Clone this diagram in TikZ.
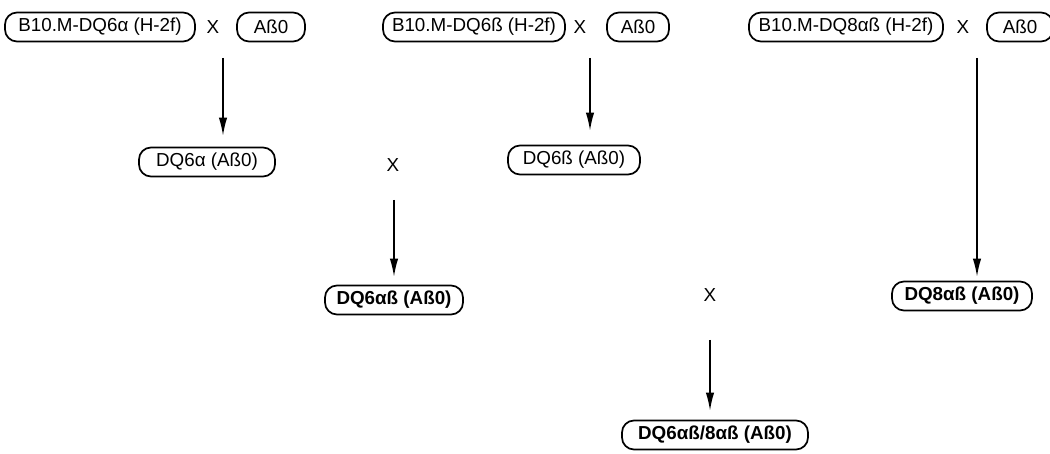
\documentclass[tikz,border=0pt]{standalone}
\usepackage{fontspec}
\setmainfont{Liberation Sans}
\usetikzlibrary{arrows.meta}
\begin{document}
\begin{tikzpicture}[x=0.5pt,y=-0.5pt,
  box/.style={draw,line width=0.85pt,rounded corners=6pt,minimum height=14.5pt,inner sep=0pt,font=\fontsize{9.4}{11}\selectfont},
  bbox/.style={box,font=\fontsize{9.4}{11}\selectfont\bfseries},
  cross/.style={inner sep=0pt,font=\fontsize{9.4}{11}\selectfont},
  arr/.style={line width=0.7pt,-{Latex[length=9pt,width=4.2pt]}}]
\useasboundingbox (0,0) rectangle (1050,454);
% row 1
\node[box,minimum width=95pt] (b1) at (100,27) {B10.M-DQ6α (H-2f)};
\node[cross] (x1) at (213,27) {X};
\node[box,minimum width=34pt] (a1) at (271,27) {Aß0};
\node[box,minimum width=91pt] (b2) at (474,27) {B10.M-DQ6ß (H-2f)};
\node[cross] (x2) at (580,27) {X};
\node[box,minimum width=31pt] (a2) at (638,27) {Aß0};
\node[box,minimum width=97pt] (b3) at (846,27) {B10.M-DQ8αß (H-2f)};
\node[cross] (x3) at (963,27) {X};
\node[box,minimum width=33pt] (a3) at (1020,27) {Aß0};
% row 2
\node[box,minimum width=68pt] (d1) at (207,162) {DQ6α (Aß0)};
\node[cross] (x4) at (393,165) {X};
\node[box,minimum width=66pt] (d2) at (574,160) {DQ6ß (Aß0)};
% row 3
\node[bbox,minimum width=69pt] (e1) at (394,300) {DQ6αß (Aß0)};
\node[cross] (x5) at (710,295) {X};
\node[bbox,minimum width=70pt] (g) at (962,296) {DQ8αß (Aß0)};
% row 4
\node[bbox,minimum width=93pt] (f) at (715,435) {DQ6αß/8αß (Aß0)};
% arrows
\coordinate (s1) at (223,58);
\coordinate (s2) at (590,58);
\coordinate (s3) at (977,58);
\coordinate (s4) at (394,200);
\coordinate (s5) at (710,340);
\draw[arr,shorten >=5.5pt] (s1) -- (s1 |- d1.north);
\draw[arr,shorten >=7pt] (s2) -- (s2 |- d2.north);
\draw[arr,shorten >=2pt] (s3) -- (s3 |- g.north);
\draw[arr,shorten >=4pt] (s4) -- (s4 |- e1.north);
\draw[arr,shorten >=4.5pt] (s5) -- (s5 |- f.north);
\end{tikzpicture}
\end{document}
